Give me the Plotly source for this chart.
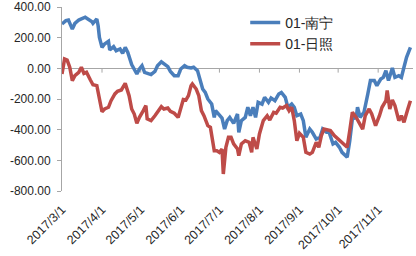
import plotly.graph_objects as go

# ---- data ----
nanning_dates = ["2017-03-01","2017-03-04","2017-03-06","2017-03-09","2017-03-11","2017-03-14","2017-03-16","2017-03-19","2017-03-21","2017-03-24",
 "2017-03-25","2017-03-28","2017-03-29","2017-03-30","2017-04-01","2017-04-03","2017-04-06","2017-04-07","2017-04-10","2017-04-12",
 "2017-04-15","2017-04-17","2017-04-19","2017-04-21","2017-04-24","2017-04-26","2017-04-28","2017-04-30","2017-05-02","2017-05-04",
 "2017-05-06","2017-05-09","2017-05-12","2017-05-14","2017-05-17","2017-05-19","2017-05-22","2017-05-24","2017-05-27","2017-05-30",
 "2017-06-01","2017-06-04","2017-06-06","2017-06-09","2017-06-11","2017-06-14","2017-06-16","2017-06-18","2017-06-20","2017-06-22",
 "2017-06-25","2017-06-27","2017-06-28","2017-06-30","2017-07-03","2017-07-05","2017-07-07","2017-07-09","2017-07-12","2017-07-15",
 "2017-07-16","2017-07-18","2017-07-21","2017-07-23","2017-07-25","2017-07-27","2017-07-29","2017-07-31","2017-08-03","2017-08-05",
 "2017-08-08","2017-08-10","2017-08-13","2017-08-16","2017-08-18","2017-08-21","2017-08-23","2017-08-26","2017-08-28","2017-08-30",
 "2017-09-02","2017-09-04","2017-09-06","2017-09-09","2017-09-11","2017-09-14","2017-09-17","2017-09-19","2017-09-22","2017-09-24",
 "2017-09-27","2017-09-29","2017-10-02","2017-10-04","2017-10-08","2017-10-10","2017-10-12","2017-10-15","2017-10-16","2017-10-18",
 "2017-10-21","2017-10-24","2017-10-26","2017-10-29","2017-10-31","2017-11-03","2017-11-05","2017-11-07","2017-11-09","2017-11-12",
 "2017-11-14","2017-11-17","2017-11-19","2017-11-21","2017-11-23","2017-11-26"]
nanning_vals = [289,311,315,256,293,315,322,333,322,306,
 293,322,278,202,137,159,176,120,141,115,
 126,98,137,104,24,-4,-37,-4,17,-26,
 -33,-41,-20,17,43,28,11,-20,-48,-48,
 -4,17,7,2,7,-15,-70,-135,-157,-200,
 -233,-320,-276,-298,-324,-396,-341,-320,-359,-298,
 -417,-341,-320,-254,-309,-254,-320,-222,-233,-189,
 -222,-193,-211,-167,-157,-189,-254,-233,-254,-309,
 -298,-341,-450,-396,-417,-461,-450,-396,-417,-417,
 -493,-483,-515,-548,-580,-472,-330,-320,-254,-320,
 -287,-167,-80,-80,-113,-70,-59,-15,-80,2,
 -59,-48,-59,7,72,137]

rizhao_dates = ["2017-03-01","2017-03-03","2017-03-05","2017-03-07","2017-03-09","2017-03-11","2017-03-14","2017-03-16","2017-03-18","2017-03-20",
 "2017-03-23","2017-03-25","2017-03-28","2017-03-30","2017-04-01","2017-04-03","2017-04-06","2017-04-08","2017-04-11","2017-04-13",
 "2017-04-16","2017-04-19","2017-04-20","2017-04-22","2017-04-24","2017-04-26","2017-04-28","2017-04-30","2017-05-03","2017-05-05",
 "2017-05-06","2017-05-09","2017-05-12","2017-05-14","2017-05-17","2017-05-19","2017-05-22","2017-05-24","2017-05-27","2017-05-30",
 "2017-06-01","2017-06-03","2017-06-05","2017-06-07","2017-06-09","2017-06-10","2017-06-13","2017-06-15","2017-06-17","2017-06-19",
 "2017-06-22","2017-06-24","2017-06-27","2017-06-29","2017-07-01","2017-07-03","2017-07-04","2017-07-06","2017-07-08","2017-07-10",
 "2017-07-12","2017-07-15","2017-07-16","2017-07-18","2017-07-21","2017-07-24","2017-07-26","2017-07-27","2017-07-30","2017-08-01",
 "2017-08-04","2017-08-07","2017-08-09","2017-08-12","2017-08-14","2017-08-17","2017-08-19","2017-08-22","2017-08-24","2017-08-26",
 "2017-08-28","2017-08-30","2017-09-01","2017-09-04","2017-09-06","2017-09-09","2017-09-11","2017-09-14","2017-09-16","2017-09-18",
 "2017-09-20","2017-09-23","2017-09-25","2017-09-28","2017-10-01","2017-10-03","2017-10-06","2017-10-08","2017-10-10","2017-10-12",
 "2017-10-15","2017-10-17","2017-10-20","2017-10-22","2017-10-25","2017-10-27","2017-10-30","2017-11-02","2017-11-04","2017-11-07",
 "2017-11-08","2017-11-10","2017-11-12","2017-11-14","2017-11-17","2017-11-19","2017-11-21","2017-11-24","2017-11-26"]
rizhao_vals = [-37,61,54,7,-80,-48,-26,7,-33,-26,
 -76,-107,-113,-211,-283,-265,-254,-211,-167,-150,
 -141,-98,-128,-178,-265,-298,-359,-320,-276,-243,
 -330,-341,-309,-287,-250,-265,-259,-280,-293,-320,
 -265,-204,-207,-178,-113,-102,-135,-178,-276,-309,
 -374,-385,-537,-537,-548,-526,-689,-515,-450,-450,
 -493,-526,-570,-493,-472,-483,-548,-450,-526,-428,
 -341,-309,-337,-287,-293,-254,-259,-243,-276,-254,
 -341,-472,-424,-450,-548,-559,-548,-483,-515,-439,
 -396,-402,-406,-439,-461,-483,-504,-515,-406,-287,
 -320,-352,-396,-309,-265,-298,-374,-309,-254,-211,
 -145,-265,-207,-243,-341,-309,-352,-265,-211]

tick_dates = ["2017-03-01","2017-04-01","2017-05-01","2017-06-01","2017-07-01","2017-08-01","2017-09-01","2017-10-01","2017-11-01"]
tick_labels = ["2017/3/1","2017/4/1","2017/5/1","2017/6/1","2017/7/1","2017/8/1","2017/9/1","2017/10/1","2017/11/1"]
y_ticks = [400, 200, 0, -200, -400, -600, -800]
y_labels = ["400.00", "200.00", "0.00", "-200.00", "-400.00", "-600.00", "-800.00"]

BLUE = "#4A7EBB"
RED = "#BE4B48"
FONT = "Liberation Sans"

fig = go.Figure()
fig.add_trace(go.Scatter(x=nanning_dates, y=nanning_vals, mode="lines", name="01-南宁",
                         line=dict(color=BLUE, width=3.5)))
fig.add_trace(go.Scatter(x=rizhao_dates, y=rizhao_vals, mode="lines", name="01-日照",
                         line=dict(color=RED, width=3.5)))

# small tick marks hanging below the zero line
for d in tick_dates[1:]:
    fig.add_shape(type="line", xref="x", yref="y", x0=d, x1=d, y0=0, y1=-28,
                  line=dict(color="#A6A6A6", width=1), layer="below")

fig.update_layout(
    width=416, height=256,
    margin=dict(l=62, r=3, t=7, b=65),
    paper_bgcolor="white", plot_bgcolor="white",
    font=dict(family=FONT, size=12, color="#262626"),
    showlegend=True,
    legend=dict(x=0.522, y=1.0, xanchor="left", yanchor="top",
                bgcolor="rgba(0,0,0,0)", font=dict(size=14, color="#262626"),
                tracegroupgap=0, itemwidth=30),
    xaxis=dict(range=["2017-03-01", "2017-11-28"], tickvals=tick_dates, ticktext=tick_labels,
               tickangle=-45, showgrid=False, showline=False, zeroline=False, ticks="",
               automargin=False, ticklabelstandoff=8,
               tickfont=dict(family=FONT, size=12.5, color="#262626")),
    yaxis=dict(range=[-800, 400], tickvals=y_ticks, ticktext=y_labels, showgrid=False,
               showline=True, linecolor="#A6A6A6", linewidth=1, ticks="outside",
               ticklen=4, tickcolor="#A6A6A6", zeroline=True, zerolinecolor="#A6A6A6",
               zerolinewidth=1, automargin=False, ticklabelstandoff=4,
               tickfont=dict(family=FONT, size=12, color="#262626")),
)

fig.write_html("out.html")
